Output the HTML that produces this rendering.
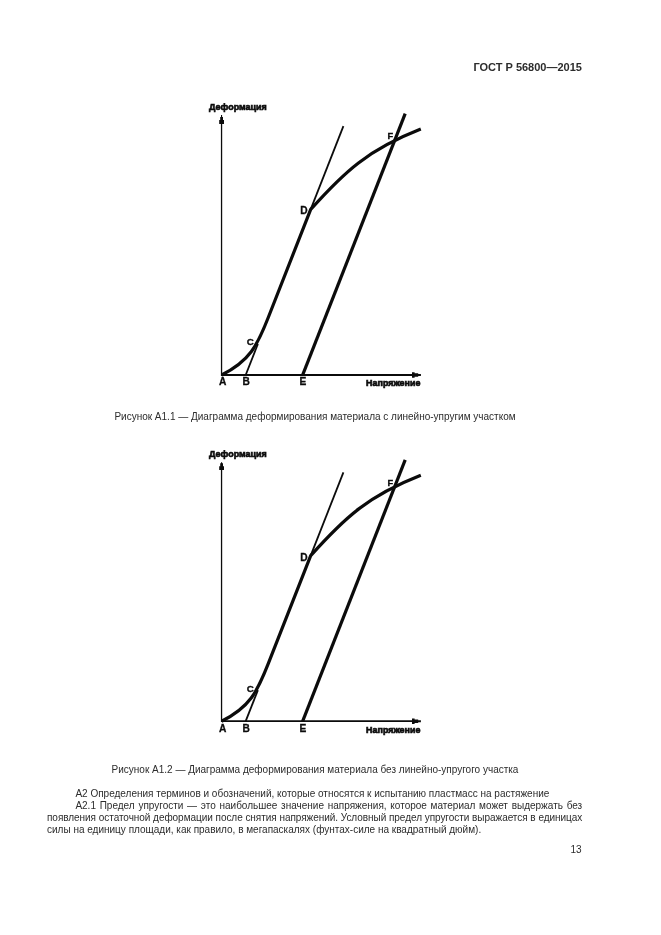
<!DOCTYPE html>
<html lang="ru"><head><meta charset="utf-8"><title>ГОСТ Р 56800—2015</title>
<style>
html,body{margin:0;padding:0;background:#fff;}
body{width:661px;height:935px;position:relative;overflow:hidden;font-family:"Liberation Sans",sans-serif;color:#2c2c2c;}
.t{position:absolute;white-space:nowrap;font-size:10px;line-height:12px;}
.hdr{left:473.4px;top:60.7px;font-size:11px;font-weight:bold;line-height:13px;color:#2c2c2c;}
.cap{left:0;width:630px;text-align:center;}
.j{text-align:justify;text-align-last:justify;}
svg{position:absolute;left:0;top:0;}
svg text{font-family:"Liberation Sans",sans-serif;font-weight:bold;font-size:10.2px;fill:#0b0b0b;stroke:#0b0b0b;stroke-width:0.3px;}
svg text.w{font-size:9.85px;stroke-width:0.7px;}
</style></head><body>
<div class="t hdr">ГОСТ Р 56800—2015</div>

<svg width="661" height="935" viewBox="0 0 661 935">
<g transform="translate(0,0)">
<g fill="none" stroke="#0b0b0b" stroke-linecap="butt">
  <line x1="221.55" y1="375.8" x2="221.55" y2="122" stroke-width="1.3"/>
  <path d="M221 115 H222.1 V117.1 H223 V120 H224 V123.9 H219.2 V120 H220.2 V117.1 H221 Z" fill="#0b0b0b" stroke="none"/>
  <line x1="221" y1="374.95" x2="414" y2="374.95" stroke-width="1.9"/>
  <path d="M412 372.2 H414.6 V373.2 H418.2 V374 H420.9 V376 H418.2 V376.7 H414.6 V377.7 H412 Z" fill="#0b0b0b" stroke="none"/>
  <line x1="245.7" y1="375" x2="257.9" y2="344" stroke-width="1.8"/>
  <line x1="310.3" y1="210.4" x2="343.4" y2="126.2" stroke-width="1.8"/>
  <path d="M221.6 375 C249.6 361 257.06 346.02 268.06 318 L310.7 209.4 C344.6 171.6 367.5 150 420.8 129.1" stroke-width="3.2" stroke-linejoin="miter"/>
  <line x1="302.6" y1="375.2" x2="405.2" y2="113.7" stroke-width="3.2"/>
</g>
<g transform="translate(0,0)">
<text class="w" x="209.1" y="110.2" textLength="57.5" lengthAdjust="spacingAndGlyphs">Деформация</text>
<text class="w" x="366.1" y="385.5" textLength="54.3" lengthAdjust="spacingAndGlyphs">Напряжение</text>
<text x="219.0" y="384.7">A</text>
<text x="242.5" y="384.7">B</text>
<text x="299.5" y="384.8">E</text>
<text x="246.8" y="344.6" style="font-size:9.8px">C</text>
<text x="300.2" y="213.8">D</text>
<text x="387.6" y="138.8" style="font-size:9.3px">F</text>
</g>
</g>
<g transform="translate(0,346.2)">
<g fill="none" stroke="#0b0b0b" stroke-linecap="butt">
  <line x1="221.55" y1="375.8" x2="221.55" y2="122" stroke-width="1.3"/>
  <path d="M221 116.0 H222.1 V117.1 H223 V120 H224 V123.9 H219.2 V120 H220.2 V117.1 H221 Z" fill="#0b0b0b" stroke="none"/>
  <line x1="221" y1="374.95" x2="414" y2="374.95" stroke-width="1.9"/>
  <path d="M412 372.2 H414.6 V373.2 H418.2 V374 H420.9 V376 H418.2 V376.7 H414.6 V377.7 H412 Z" fill="#0b0b0b" stroke="none"/>
  <line x1="245.7" y1="375" x2="257.9" y2="344" stroke-width="1.8"/>
  <line x1="310.3" y1="210.4" x2="343.4" y2="126.2" stroke-width="1.8"/>
  <path d="M221.6 375 C249.6 361 257.06 346.02 268.06 318 L310.7 209.4 C344.6 171.6 367.5 150 420.8 129.1" stroke-width="3.2" stroke-linejoin="miter"/>
  <line x1="302.6" y1="375.2" x2="405.2" y2="113.7" stroke-width="3.2"/>
</g>
<g transform="translate(0,0.8)">
<text class="w" x="209.1" y="110.2" textLength="57.5" lengthAdjust="spacingAndGlyphs">Деформация</text>
<text class="w" x="366.1" y="385.5" textLength="54.3" lengthAdjust="spacingAndGlyphs">Напряжение</text>
<text x="219.0" y="384.7">A</text>
<text x="242.5" y="384.7">B</text>
<text x="299.5" y="384.8">E</text>
<text x="246.8" y="344.6" style="font-size:9.8px">C</text>
<text x="300.2" y="213.8">D</text>
<text x="387.6" y="138.8" style="font-size:9.3px">F</text>
</g>
</g>
</svg>

<div class="t cap" style="top:411px">Рисунок А1.1 — Диаграмма деформирования материала с линейно-упругим участком</div>
<div class="t cap" style="top:763.7px">Рисунок А1.2 — Диаграмма деформирования материала без линейно-упругого участка</div>
<div class="t" style="left:75.4px;top:787.8px">А2 Определения терминов и обозначений, которые относятся к испытанию пластмасс на растяжение</div>
<div class="t j" style="left:75.4px;width:506.8px;top:799.8px">А2.1 Предел упругости — это наибольшее значение напряжения, которое материал может выдержать без</div>
<div class="t j" style="left:47px;width:535.2px;top:811.6px;letter-spacing:-0.045px">появления остаточной деформации после снятия напряжений. Условный предел упругости выражается в единицах</div>
<div class="t" style="left:47px;top:823.6px">силы на единицу площади, как правило, в мегапаскалях (фунтах-силе на квадратный дюйм).</div>
<div class="t" style="left:481.5px;width:100px;text-align:right;top:843.8px">13</div>
</body></html>
